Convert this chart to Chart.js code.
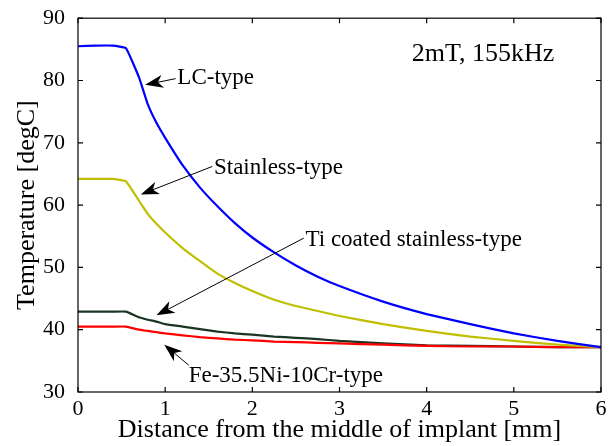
<!DOCTYPE html>
<html>
<head>
<meta charset="utf-8">
<script src="https://cdn.jsdelivr.net/npm/chart.js@4.4.1/dist/chart.umd.min.js"></script>
<style>
  body { margin: 0; background: #fff; }
</style>
</head>
<body>
<canvas id="tempChart" width="616" height="446"></canvas>
<script>
// Distance from the middle of implant [mm]
const distance = [0, 0.2, 0.4, 0.55, 0.7, 0.8, 0.9, 1.0, 1.2, 1.4, 1.6, 1.8, 2.0, 2.25, 2.5, 2.75, 3.0, 3.5, 4.0, 4.5, 5.0, 5.5, 6.0];

// Temperature [degC] per implant type
const lcType = [85.5, 85.6, 85.6, 85.2, 80.5, 76.2, 73.2, 70.8, 66.4, 62.8, 59.8, 57.1, 54.8, 52.4, 50.3, 48.5, 47.0, 44.5, 42.5, 40.9, 39.4, 38.2, 37.2];
const stainlessType = [64.2, 64.2, 64.2, 63.8, 60.7, 58.6, 57.0, 55.6, 53.1, 51.0, 49.0, 47.5, 46.2, 44.8, 43.8, 43.0, 42.2, 40.9, 39.8, 38.9, 38.2, 37.6, 37.2];
const tiCoatedType = [42.9, 42.9, 42.9, 42.9, 42.0, 41.6, 41.3, 40.9, 40.5, 40.1, 39.7, 39.4, 39.2, 38.9, 38.7, 38.5, 38.2, 37.8, 37.5, 37.4, 37.3, 37.2, 37.2];
const feNiCrType = [40.5, 40.5, 40.5, 40.5, 40.0, 39.8, 39.6, 39.4, 39.1, 38.8, 38.6, 38.4, 38.3, 38.1, 38.0, 37.9, 37.8, 37.6, 37.4, 37.3, 37.3, 37.2, 37.2];

// Axis ticks
const xTicks = [0, 1, 2, 3, 4, 5, 6];
const yTicks = [30, 40, 50, 60, 70, 80, 90];

// Labels with arrows, in data coordinates
const labels = [
  { text: "LC-type", x: 1.14, y: 79.4, from: [1.12, 80.3], to: [0.77, 79.3] },
  { text: "Stainless-type", x: 1.56, y: 65.05, from: [1.54, 66.2], to: [0.72, 61.7] },
  { text: "Ti coated stainless-type", x: 2.61, y: 53.4, from: [2.59, 54.7], to: [0.90, 42.3] },
  { text: "Fe-35.5Ni-10Cr-type", x: 1.27, y: 31.6, from: [1.27, 34.3], to: [0.99, 37.6] },
];
const condition = { text: "2mT, 155kHz", x: 3.83, y: 83.2 };

const FONT = "'Liberation Serif', 'Times New Roman', serif";

function toPoints(ys) {
  return distance.map((d, i) => ({ x: d, y: ys[i] }));
}

function drawArrow(ctx, x1, y1, x2, y2) {
  const a = Math.atan2(y2 - y1, x2 - x1);
  const len = 18, half = 6.5, notch = 5;
  const cx = Math.cos(a), sy = Math.sin(a);
  const bx = x2 - len * cx, by = y2 - len * sy;
  const nx = x2 - (len - notch) * cx, ny = y2 - (len - notch) * sy;
  ctx.beginPath();
  ctx.moveTo(x1, y1);
  ctx.lineTo(nx, ny);
  ctx.stroke();
  ctx.beginPath();
  ctx.moveTo(x2, y2);
  ctx.lineTo(bx - half * sy, by + half * cx);
  ctx.lineTo(nx, ny);
  ctx.lineTo(bx + half * sy, by - half * cx);
  ctx.closePath();
  ctx.fill();
}

// box with inward ticks on all four sides, plus the text labels
const framePlugin = {
  id: "frame",
  afterDatasetsDraw(chart) {
    const ctx = chart.ctx;
    const a = chart.chartArea;
    const xs = chart.scales.x, ys = chart.scales.y;
    ctx.save();
    ctx.strokeStyle = "#000";
    ctx.fillStyle = "#000";
    ctx.lineWidth = 1.2;
    ctx.strokeRect(a.left, a.top, a.right - a.left, a.bottom - a.top);
    const tl = 5;
    ctx.beginPath();
    xTicks.forEach((t) => {
      const px = xs.getPixelForValue(t);
      ctx.moveTo(px, a.bottom); ctx.lineTo(px, a.bottom - tl);
      ctx.moveTo(px, a.top); ctx.lineTo(px, a.top + tl);
    });
    yTicks.forEach((t) => {
      const py = ys.getPixelForValue(t);
      ctx.moveTo(a.left, py); ctx.lineTo(a.left + tl, py);
      ctx.moveTo(a.right, py); ctx.lineTo(a.right - tl, py);
    });
    ctx.stroke();

    ctx.textAlign = "left";
    ctx.textBaseline = "alphabetic";
    ctx.font = "23px " + FONT;
    ctx.lineWidth = 1;
    labels.forEach((l) => {
      ctx.fillText(l.text, xs.getPixelForValue(l.x), ys.getPixelForValue(l.y));
      drawArrow(ctx,
        xs.getPixelForValue(l.from[0]), ys.getPixelForValue(l.from[1]),
        xs.getPixelForValue(l.to[0]), ys.getPixelForValue(l.to[1]));
    });
    ctx.font = "26px " + FONT;
    ctx.fillText(condition.text, xs.getPixelForValue(condition.x), ys.getPixelForValue(condition.y));
    ctx.restore();
  },
};

function series(data, color) {
  return {
    data: toPoints(data),
    borderColor: color,
    borderWidth: 2.2,
    pointRadius: 0,
    tension: 0.1,
    fill: false,
  };
}

new Chart(document.getElementById("tempChart"), {
  type: "line",
  data: {
    datasets: [
      series(lcType, "#0000ff"),
      series(stainlessType, "#bfbf00"),
      series(feNiCrType, "#ff0000"),
      series(tiCoatedType, "#1a3523"),
    ],
  },
  options: {
    responsive: false,
    animation: false,
    layout: { padding: { left: 0, top: 15, right: 15, bottom: 0 } },
    plugins: {
      legend: { display: false },
      tooltip: { enabled: false },
    },
    scales: {
      x: {
        type: "linear",
        min: 0,
        max: 6,
        afterBuildTicks: (s) => { s.ticks = xTicks.map((v) => ({ value: v })); },
        afterFit: (s) => { s.height = 54; },
        grid: { display: false },
        border: { display: false },
        ticks: { color: "#000", font: { family: FONT, size: 22 }, padding: -4, maxRotation: 0 },
        title: {
          display: true,
          text: "Distance from the middle of implant [mm]",
          color: "#000",
          font: { family: FONT, size: 26 },
          padding: { top: 0, bottom: 0 },
        },
      },
      y: {
        min: 30,
        max: 90,
        afterBuildTicks: (s) => { s.ticks = yTicks.map((v) => ({ value: v })); },
        afterFit: (s) => { s.width = 78; },
        grid: { display: false },
        border: { display: false },
        ticks: { color: "#000", font: { family: FONT, size: 22 }, padding: 5 },
        title: {
          display: true,
          text: "Temperature [degC]",
          color: "#000",
          font: { family: FONT, size: 26 },
          padding: { top: 12, bottom: 0 },
        },
      },
    },
  },
  plugins: [framePlugin],
});
</script>
</body>
</html>
